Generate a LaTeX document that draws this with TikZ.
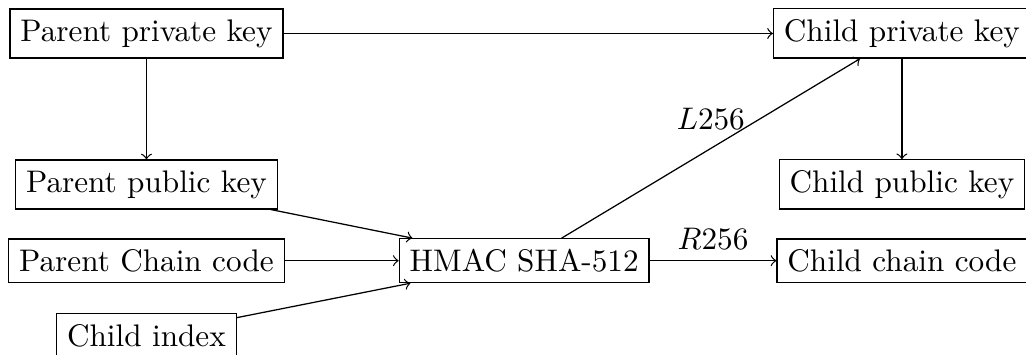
\documentclass[tikz,border=0pt]{standalone}
\usepackage{amsmath,amsfonts}
\begin{document}
\begin{tikzpicture}
\tikzstyle{every path}=[->];
\tikzstyle{keybox}=[draw];
\useasboundingbox (-1.649,0.377) rectangle (9.903,-3.620);
\node (PPK) [keybox] at (0,0) {Parent private key};
\node (CPK) [keybox] at (8.506,0) {Child private key};
\node (PPUB) [keybox] at (0,-1.7) {Parent public key};
\node (CPUB) [keybox] at (8.506,-1.7) {Child public key};
\node (PCC) [keybox] at (0,-2.558) {Parent Chain code};
\node (HMAC) [keybox] at (4.253,-2.558) {HMAC SHA-512};
\node (CCC) [keybox] at (8.506,-2.558) {Child chain code};
\node (CI) [keybox] at (0,-3.401) {Child index};
\draw (PPK) -- (CPK);
\draw (PPK) -- (PPUB);
\draw (CPK) -- (CPUB);
\draw (PPUB) -- (HMAC);
\draw (PCC) -- (HMAC);
\draw (CI) -- (HMAC);
\draw (HMAC) -- node[above=2.5pt] {$L256$} (CPK);
\draw (HMAC) -- node[above] {$R256$} (CCC);
\end{tikzpicture}
\end{document}
